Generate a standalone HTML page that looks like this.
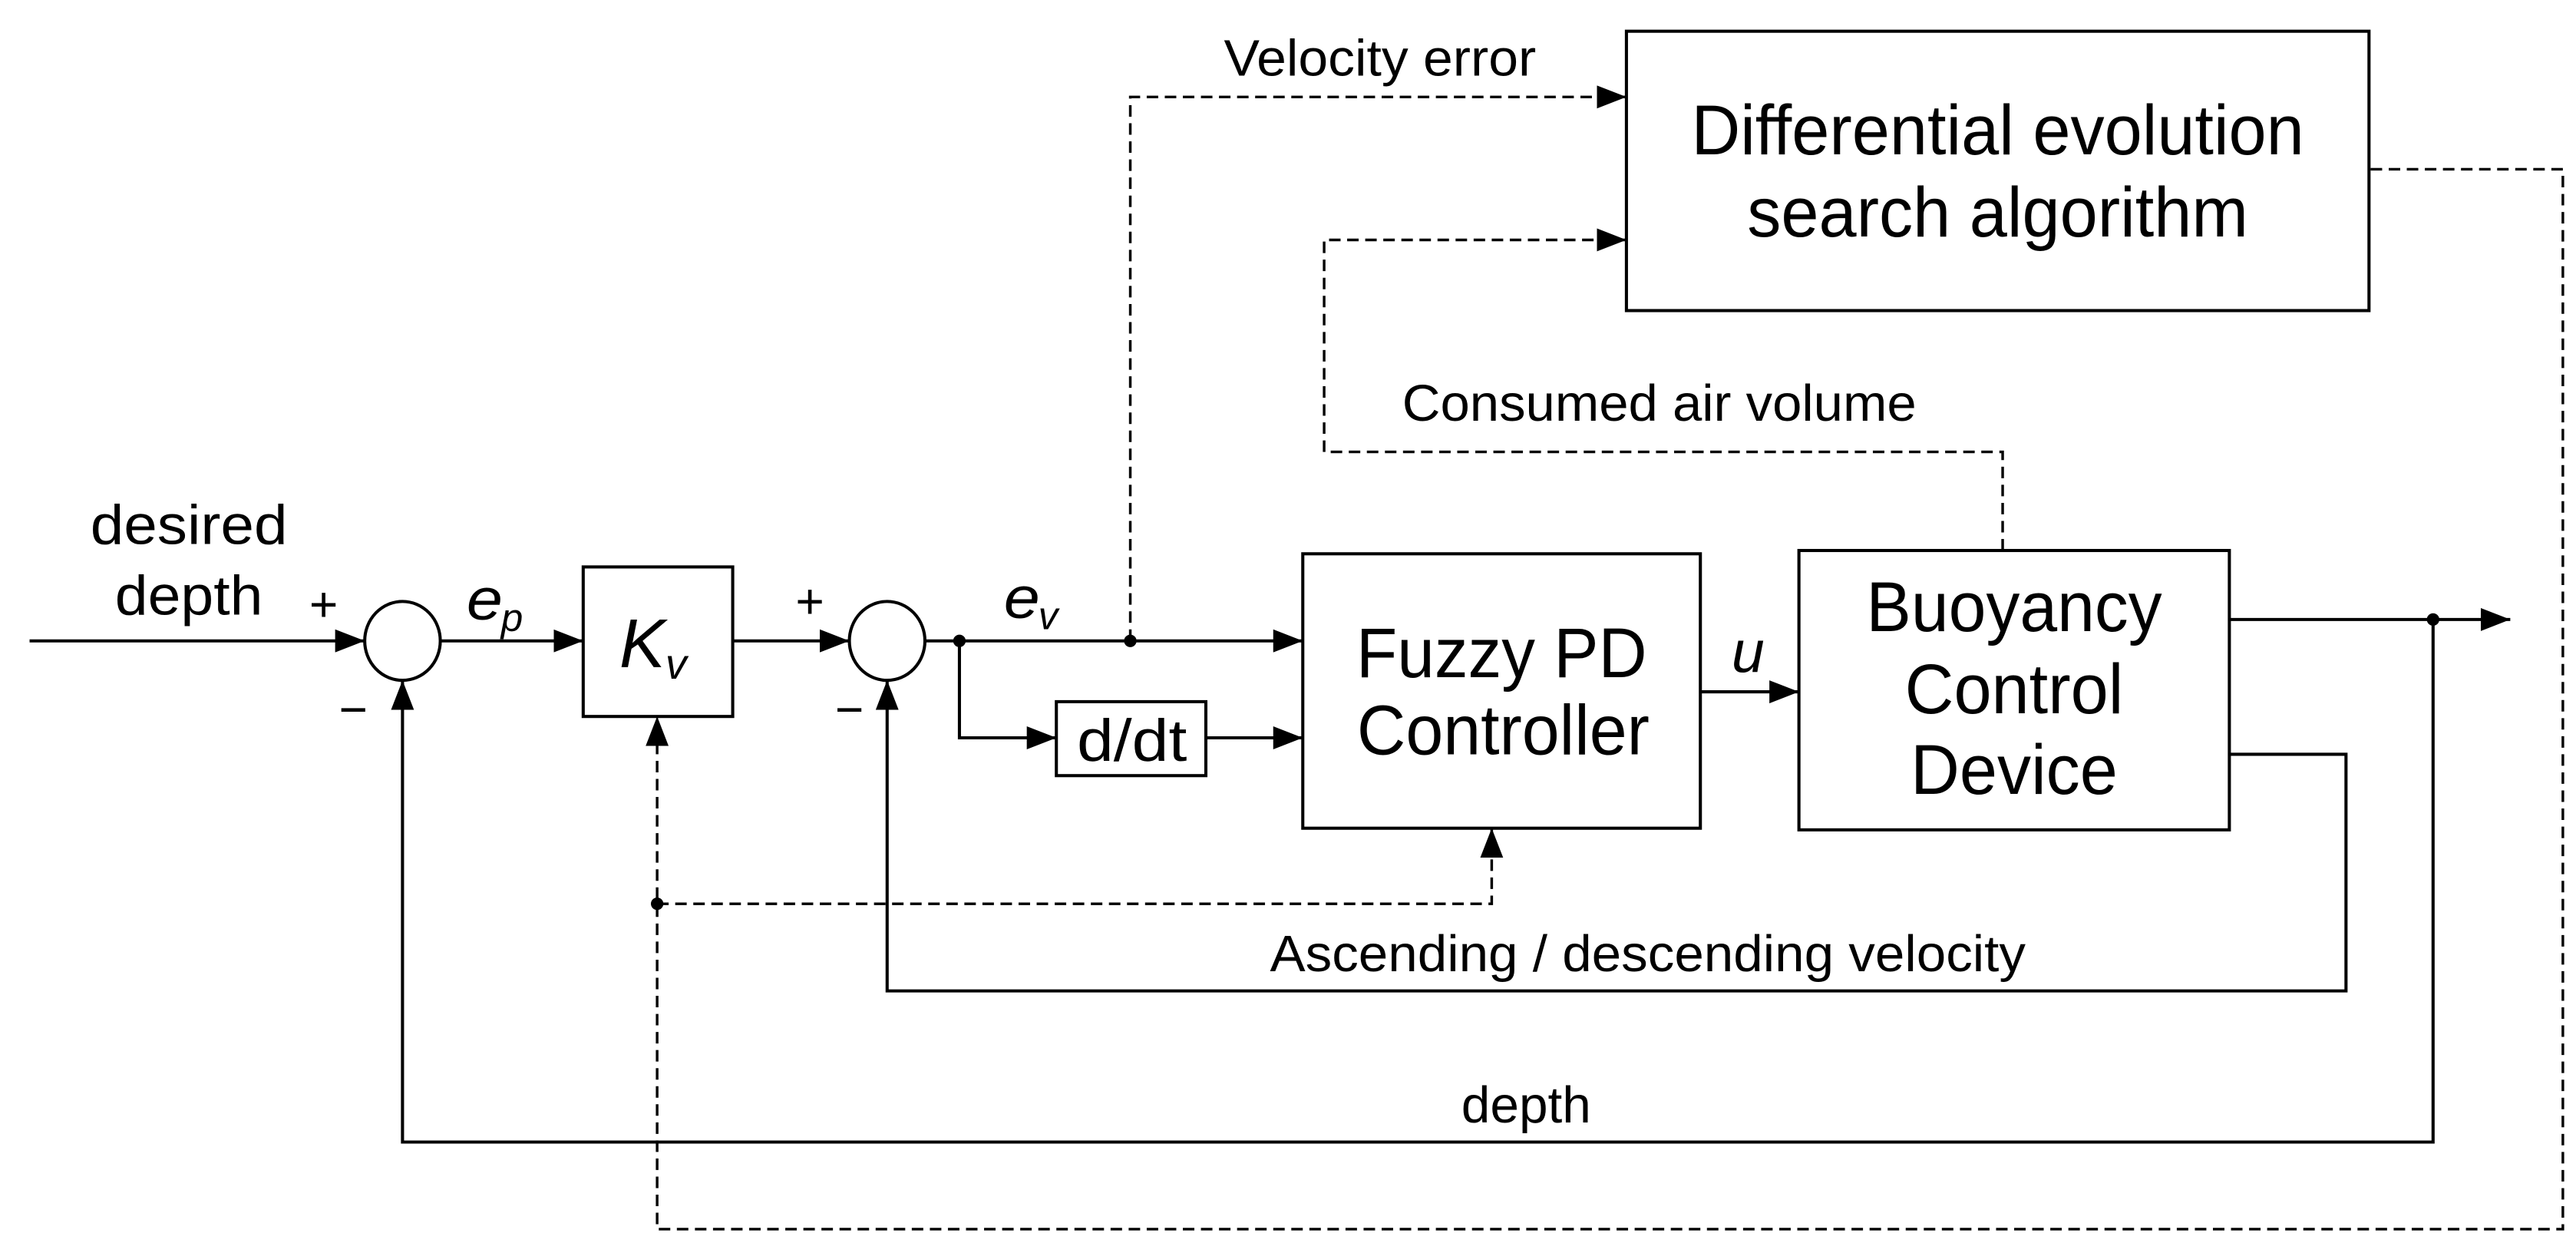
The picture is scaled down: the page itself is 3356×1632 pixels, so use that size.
<!DOCTYPE html>
<html><head><meta charset="utf-8"><style>
html,body{margin:0;padding:0;background:#fff}
svg{display:block}
text{font-family:"Liberation Sans",Arial,sans-serif;fill:#000}
</style></head><body>
<svg width="3356" height="1632" viewBox="0 0 1568 762.5" xmlns="http://www.w3.org/2000/svg">
<defs>
<marker id="a" markerWidth="18" markerHeight="14" refX="18" refY="7" orient="auto" markerUnits="userSpaceOnUse">
<path d="M0,0 L18,7 L0,14 Z" fill="#000"/></marker>
</defs>
<g fill="none" stroke="#000" stroke-width="1.9">
<rect x="355" y="345" width="91" height="91"/>
<rect x="643" y="427" width="91" height="45"/>
<rect x="793" y="337" width="242" height="167"/>
<rect x="1095" y="335" width="262" height="170"/>
<rect x="990" y="19" width="452" height="170"/>
<ellipse cx="245" cy="390" rx="23" ry="24"/>
<ellipse cx="540" cy="390" rx="23" ry="24"/>
<line x1="18" y1="390" x2="222" y2="390" marker-end="url(#a)"/>
<line x1="268" y1="390" x2="355" y2="390" marker-end="url(#a)"/>
<line x1="446" y1="390" x2="517" y2="390" marker-end="url(#a)"/>
<line x1="563" y1="390" x2="793" y2="390" marker-end="url(#a)"/>
<polyline points="584,390 584,449 643,449" marker-end="url(#a)"/>
<line x1="734" y1="449" x2="793" y2="449" marker-end="url(#a)"/>
<line x1="1035" y1="421" x2="1095" y2="421" marker-end="url(#a)"/>
<line x1="1357" y1="377" x2="1528" y2="377" marker-end="url(#a)"/>
<polyline points="1357,459 1428,459 1428,603 540,603 540,414" marker-end="url(#a)"/>
<polyline points="1481,377 1481,695 245,695 245,414" marker-end="url(#a)"/>
</g>
<g fill="none" stroke="#000" stroke-width="1.6" stroke-dasharray="7,4">
<polyline points="688,390 688,59 990,59" marker-end="url(#a)"/>
<polyline points="1219,335 1219,275 806,275 806,146 990,146" marker-end="url(#a)"/>
<polyline points="1443,103 1560,103 1560,748 400,748 400,436" marker-end="url(#a)"/>
<polyline points="400,550 908,550 908,504" marker-end="url(#a)"/>
</g>
<g fill="#000">
<circle cx="584" cy="390" r="3.8"/>
<circle cx="688" cy="390" r="3.8"/>
<circle cx="1481" cy="377" r="3.8"/>
<circle cx="400" cy="550" r="3.8"/>
</g>
<g font-size="34">
<text x="115" y="331" text-anchor="middle" textLength="120" lengthAdjust="spacingAndGlyphs">desired</text>
<text x="115" y="374" text-anchor="middle" textLength="90" lengthAdjust="spacingAndGlyphs">depth</text>
</g>
<g font-size="30">
<text x="197" y="378" text-anchor="middle">+</text>
<text x="493" y="376" text-anchor="middle">+</text>
<text x="215" y="442" text-anchor="middle">−</text>
<text x="517" y="442" text-anchor="middle">−</text>
</g>
<text x="284" y="377" font-size="36" font-style="italic" textLength="22" lengthAdjust="spacingAndGlyphs">e</text>
<text x="305" y="384" font-size="24" font-style="italic">p</text>
<text x="377" y="406" font-size="42" font-style="italic" textLength="28" lengthAdjust="spacingAndGlyphs">K</text>
<text x="405" y="413" font-size="26" font-style="italic">v</text>
<text x="611" y="376" font-size="36" font-style="italic" textLength="22" lengthAdjust="spacingAndGlyphs">e</text>
<text x="632" y="383" font-size="24" font-style="italic">v</text>
<text x="1054" y="409" font-size="36" font-style="italic">u</text>
<text x="689" y="463" font-size="36" text-anchor="middle" textLength="67" lengthAdjust="spacingAndGlyphs">d/dt</text>
<g font-size="43" text-anchor="middle">
<text x="914" y="412" textLength="177" lengthAdjust="spacingAndGlyphs">Fuzzy PD</text>
<text x="915" y="459" textLength="178" lengthAdjust="spacingAndGlyphs">Controller</text>
<text x="1226" y="384" textLength="180" lengthAdjust="spacingAndGlyphs">Buoyancy</text>
<text x="1226" y="434" textLength="133" lengthAdjust="spacingAndGlyphs">Control</text>
<text x="1226" y="483" textLength="126" lengthAdjust="spacingAndGlyphs">Device</text>
<text x="1216" y="94" textLength="373" lengthAdjust="spacingAndGlyphs">Differential evolution</text>
<text x="1216" y="144" textLength="305" lengthAdjust="spacingAndGlyphs">search algorithm</text>
</g>
<g font-size="31" text-anchor="middle">
<text x="840" y="46" textLength="190" lengthAdjust="spacingAndGlyphs">Velocity error</text>
<text x="1010" y="256" textLength="313" lengthAdjust="spacingAndGlyphs">Consumed air volume</text>
<text x="1003" y="591" textLength="460" lengthAdjust="spacingAndGlyphs">Ascending / descending velocity</text>
<text x="929" y="683" textLength="79" lengthAdjust="spacingAndGlyphs">depth</text>
</g>
</svg>
</body></html>
